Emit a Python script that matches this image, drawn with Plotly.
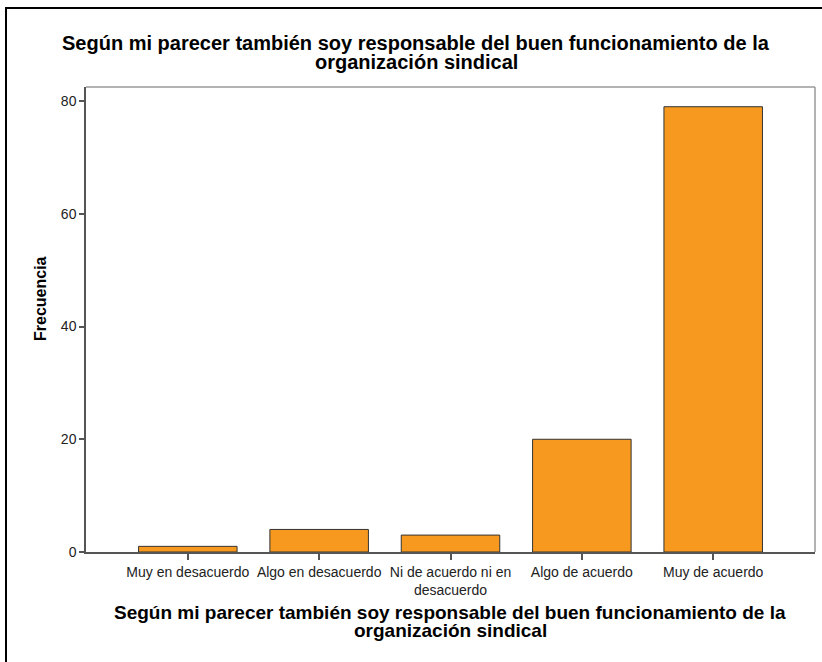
import plotly.graph_objects as go

categories = ["Muy en desacuerdo", "Algo en desacuerdo", "Ni de acuerdo ni en<br>desacuerdo",
              "Algo de acuerdo", "Muy de acuerdo"]
frecuencia = [1, 4, 3, 20, 79]
y_ticks = [0, 20, 40, 60, 80]
title_lines = ["Según mi parecer también soy responsable del buen funcionamiento de la",
               "organización sindical"]
y_title = "Frecuencia"

W, H = 822, 662
L, R, T, B = 86, 7, 87, 110
pw, ph = W - L - R, H - T - B

def px(x):
    return (x - L) / pw

def py(y):
    return (H - B - y) / ph

fig = go.Figure()
fig.add_trace(go.Bar(
    x=list(range(len(categories))), y=frecuencia,
    marker=dict(color="#F7991F", line=dict(color="#333333", width=1)),
    width=0.75, hoverinfo="skip"))

fig.update_layout(
    width=W, height=H,
    margin=dict(l=L, r=R, t=T, b=B),
    paper_bgcolor="white", plot_bgcolor="white",
    showlegend=False,
    font=dict(family="Liberation Sans, Arial, sans-serif", color="#222222"),
)
fig.update_xaxes(
    range=[-0.775, 4.775], tickmode="array",
    tickvals=list(range(len(categories))), ticktext=categories,
    ticks="outside", ticklen=6, tickwidth=1.5, tickcolor="#555555",
    showline=True, linecolor="#555555", linewidth=1.5,
    showgrid=False, zeroline=False,
    tickfont=dict(family="Liberation Sans, Arial, sans-serif", size=14, color="#222222"),
)
fig.update_yaxes(
    range=[0, 82.5], tickmode="array", tickvals=y_ticks,
    ticks="outside", ticklen=5, tickwidth=1.5, tickcolor="#555555",
    showline=True, linecolor="#555555", linewidth=1.5,
    showgrid=False, zeroline=False,
    tickfont=dict(family="Liberation Sans, Arial, sans-serif", size=14, color="#222222"),
)

# light frame at top and right of plot area
fig.add_shape(type="line", xref="paper", yref="paper", x0=0, x1=1, y0=1, y1=1,
              line=dict(color="#9a9a9a", width=1.5))
fig.add_shape(type="line", xref="paper", yref="paper", x0=1, x1=1, y0=0, y1=1,
              line=dict(color="#9a9a9a", width=1.5))

# outer border of the chart container
fig.add_shape(type="rect", xref="paper", yref="paper",
              x0=px(6), x1=px(840), y0=py(8), y1=py(700),
              line=dict(color="black", width=2), fillcolor="rgba(0,0,0,0)")

# chart title (two lines)
for txt, yc in zip(title_lines, [43, 62]):
    fig.add_annotation(text="<b>" + txt + "</b>", xref="paper", yref="paper",
                       x=px(416), y=py(yc), xanchor="center", yanchor="middle",
                       showarrow=False,
                       font=dict(family="Liberation Sans, Arial, sans-serif", size=20, color="black"))

# x axis title (two lines)
for txt, yc in zip(title_lines, [612, 630]):
    fig.add_annotation(text="<b>" + txt + "</b>", xref="paper", yref="paper",
                       x=px(450), y=py(yc), xanchor="center", yanchor="middle",
                       showarrow=False,
                       font=dict(family="Liberation Sans, Arial, sans-serif", size=19, color="black"))

# y axis title
fig.add_annotation(text="<b>" + y_title + "</b>", xref="paper", yref="paper",
                   x=px(40), y=py(299), xanchor="center", yanchor="middle",
                   textangle=-90, showarrow=False,
                   font=dict(family="Liberation Sans, Arial, sans-serif", size=16, color="black"))

fig.write_html("out.html", config={"displayModeBar": False},
               post_script="document.body.style.margin='0';")
